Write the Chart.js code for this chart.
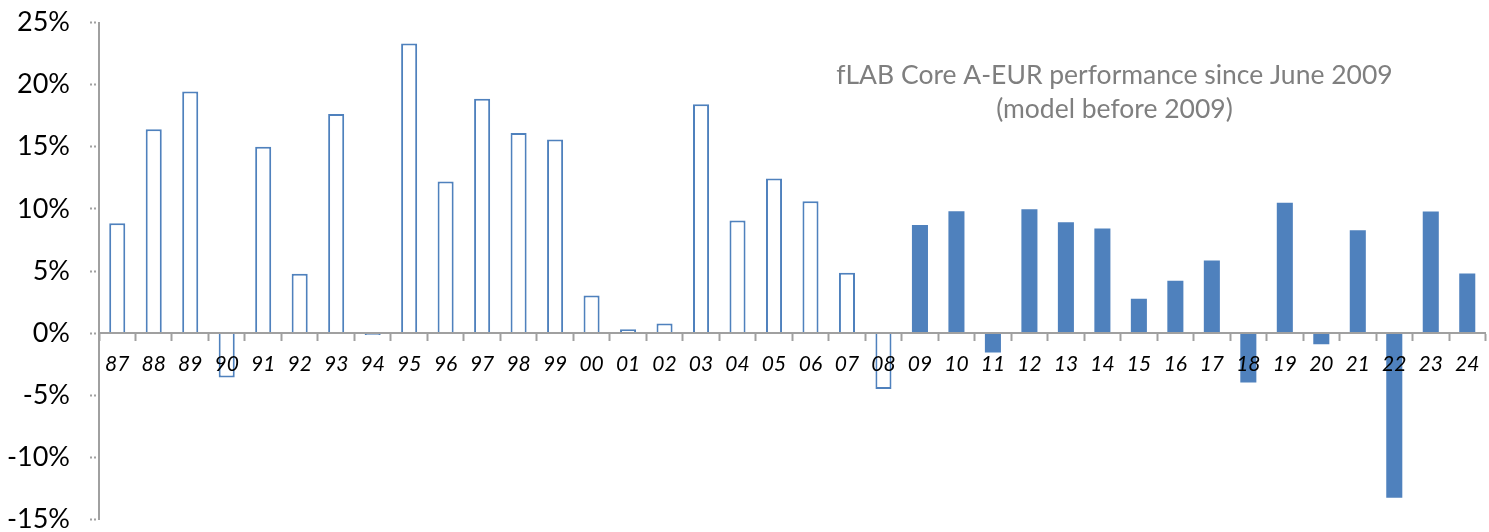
<!DOCTYPE html>
<html>
<head>
<meta charset="utf-8">
<script src="https://cdn.jsdelivr.net/npm/chart.js@4"></script>
<style>
  html, body { margin: 0; padding: 0; background: #ffffff; }
  #wrap { width: 1489px; height: 532px; position: relative; }
</style>
</head>
<body>
<div id="wrap"><canvas id="perf"></canvas></div>
<script>
// Calendar years (two-digit labels)
const years = ['87','88','89','90','91','92','93','94','95','96','97','98','99',
               '00','01','02','03','04','05','06','07','08',
               '09','10','11','12','13','14','15','16','17','18','19','20','21','22','23','24'];

// Model returns 1987–2008, in %
const modelReturns = [8.85, 16.4, 19.45, -3.57, 15.0, 4.77, 17.64, -0.15, 23.3, 12.2, 18.87, 16.1, 15.58,
                      3.03, 0.32, 0.77, 18.42, 9.06, 12.44, 10.62, 4.85, -4.5];

// Fund returns 2009–2024, in %
const fundReturns = [8.71, 9.81, -1.56, 9.97, 8.93, 8.42, 2.76, 4.21, 5.84, -3.97, 10.5, -0.89, 8.28, -13.25, 9.78, 4.8];

// Value axis ticks, in %
const yTicks = [-15, -10, -5, 0, 5, 10, 15, 20, 25];

const noteLines = ['fLAB Core A-EUR performance since June 2009', '(model before 2009)'];

const BLUE = '#4f81bd';
const AXIS_GRAY = '#a0a0a0';

const modelSeries = years.map((_, i) => i < modelReturns.length ? modelReturns[i] : null);
const fundSeries = years.map((_, i) => i >= modelReturns.length ? fundReturns[i - modelReturns.length] : null);

// Two-line note drawn inside the plot area
const notePlugin = {
  id: 'perfNote',
  afterDraw(chart) {
    const { ctx, chartArea: a, scales } = chart;
    ctx.save();
    ctx.font = '26.5px Lato';
    ctx.fillStyle = '#7f7f7f';
    ctx.textAlign = 'center';
    ctx.textBaseline = 'alphabetic';
    const cx = a.left + a.width * 0.7324;
    ctx.fillText(noteLines[0], cx, scales.y.getPixelForValue(20.05));
    ctx.fillText(noteLines[1], cx, scales.y.getPixelForValue(17.3));
    ctx.restore();
  }
};

// Keep tick-label overhang from shrinking the plot area
const noOverhang = (s) => {
  s.paddingTop = 0;
  s.paddingBottom = 0;
  s.paddingLeft = 0;
  s.paddingRight = 0;
};

new Chart(document.getElementById('perf'), {
  type: 'bar',
  data: {
    labels: years,
    datasets: [
      {
        label: 'Model',
        data: modelSeries,
        backgroundColor: '#ffffff',
        borderColor: BLUE,
        borderWidth: 2,
        borderSkipped: 'start'
      },
      {
        label: 'Fund',
        data: fundSeries,
        backgroundColor: BLUE,
        borderColor: BLUE,
        borderWidth: 0
      }
    ]
  },
  options: {
    responsive: true,
    maintainAspectRatio: false,
    devicePixelRatio: 1,
    animation: false,
    grouped: false,
    categoryPercentage: 1,
    barPercentage: 0.44,
    layout: { padding: { top: 22.5, right: 3.5, bottom: 12.5, left: 0 } },
    plugins: {
      legend: { display: false },
      tooltip: { enabled: false }
    },
    scales: {
      x: {
        position: { y: 0 },
        offset: true,
        afterFit: (s) => { s.height = 0; noOverhang(s); },
        grid: {
          z: 1,
          offset: true,
          drawOnChartArea: false,
          drawTicks: true,
          tickLength: 7,
          tickWidth: 2,
          tickColor: AXIS_GRAY
        },
        border: { z: 1, display: true, color: AXIS_GRAY, width: 2 },
        ticks: {
          z: 1,
          autoSkip: false,
          maxRotation: 0,
          padding: 12,
          color: '#000000',
          font: { family: 'Lato', size: 21, style: 'italic' }
        }
      },
      y: {
        min: -15,
        max: 25,
        afterBuildTicks: (s) => { s.ticks = yTicks.map(v => ({ value: v })); },
        afterFit: (s) => { s.width = 99; noOverhang(s); },
        grid: {
          drawOnChartArea: false,
          drawTicks: true,
          tickLength: 9,
          tickWidth: 2,
          tickColor: AXIS_GRAY,
          tickBorderDash: [2, 2]
        },
        border: { display: true, color: AXIS_GRAY, width: 2, dash: [2, 2] },
        ticks: {
          padding: 20,
          color: '#000000',
          font: { family: 'Lato', size: 27 },
          callback: (v) => v + '%'
        }
      }
    }
  },
  plugins: [notePlugin]
});
</script>
</body>
</html>
